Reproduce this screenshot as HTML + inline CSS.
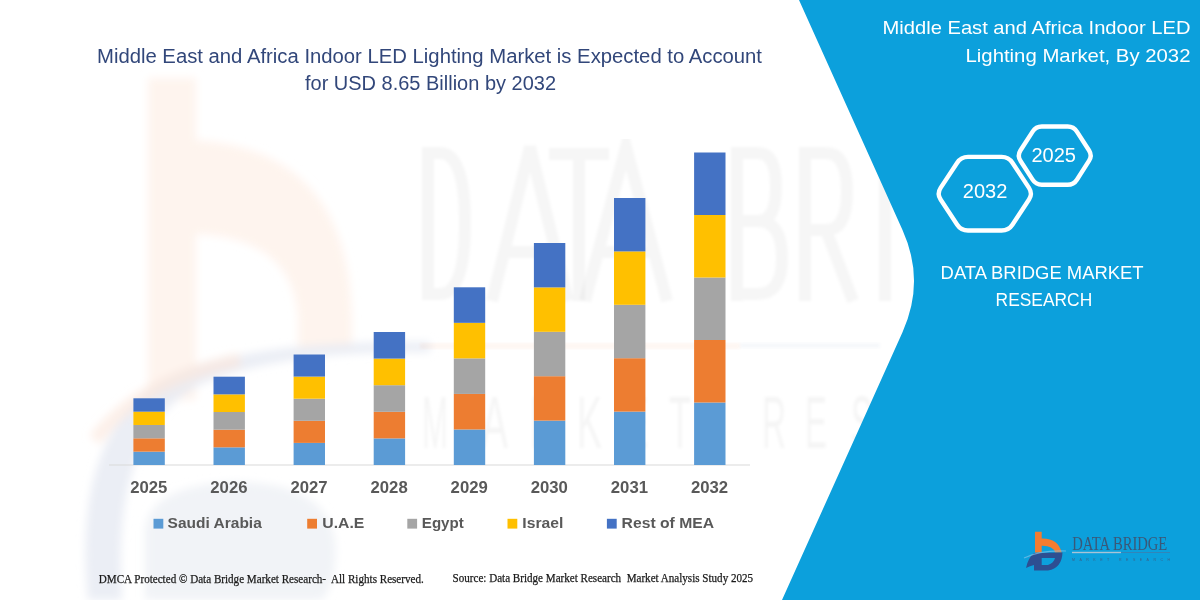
<!DOCTYPE html>
<html><head><meta charset="utf-8">
<style>
html,body{margin:0;padding:0;background:#fff;width:1200px;height:600px;overflow:hidden}
svg{display:block}
text{font-family:"Liberation Sans",sans-serif}
</style></head>
<body>
<svg width="1200" height="600" viewBox="0 0 1200 600">
<defs><filter id="bl" x="-5%" y="-5%" width="110%" height="110%"><feGaussianBlur stdDeviation="1.6"/></filter>
<filter id="bl3" x="-10%" y="-10%" width="120%" height="120%"><feGaussianBlur stdDeviation="4"/></filter></defs>
<rect x="0" y="0" width="1200" height="600" fill="#ffffff"/>

<!-- watermark logo (left) -->
<g filter="url(#bl3)">
<path d="M148,78 L196,78 L196,140 Q350,150 352,320 L352,350 L298,350 L298,320 Q294,238 196,234 L196,400 L148,400 Z" fill="#fef4ee"/>
<path d="M145,600 L145,530 Q150,485 235,482 Q325,482 335,540 Q338,580 322,600 Z" fill="#eef1f6" opacity="0.85"/>
<path d="M88,600 Q70,420 180,372 Q260,340 430,342 L430,352 Q280,350 200,385 Q110,430 122,600 Z" fill="#e6eaf3" opacity="0.8"/>
<path d="M95,440 Q140,380 240,360" fill="none" stroke="#fbe6da" stroke-opacity="0.6" stroke-width="14"/>
</g>

<!-- watermark text -->
<g fill="none" stroke="#000" stroke-opacity="0.036" stroke-width="12" filter="url(#bl)">
<path d="M428,147 L428,300 M428,153 L440,153 Q465,153 465,223 Q465,294 440,294 L428,294"/>
<path d="M492,301 L530,147 L568,301 M505,252 L555,252"/>
<path d="M549,154 L609,154 M579,154 L579,301"/>
<path d="M585,301 L626,147 L667,301 M598,252 L654,252"/>
<path d="M737,147 L737,301 M737,153 L758,153 Q776,153 776,187 Q776,221 758,221 L737,221 M758,221 Q782,221 782,258 Q782,294 758,294 L737,294"/>
<path d="M805,147 L805,301 M805,153 L826,153 Q847,153 847,192 Q847,230 826,230 L805,230 M826,230 L853,301"/>
<path d="M885,147 L885,301"/>
</g>
<g fill="#000" fill-opacity="0.04" font-size="74" filter="url(#bl)">
<text x="422" y="448" textLength="26" lengthAdjust="spacingAndGlyphs">M</text>
<text x="481" y="448" textLength="27" lengthAdjust="spacingAndGlyphs">A</text>
<text x="530" y="448" textLength="26" lengthAdjust="spacingAndGlyphs">R</text>
<text x="577" y="448" textLength="25" lengthAdjust="spacingAndGlyphs">K</text>
<text x="626" y="448" textLength="22" lengthAdjust="spacingAndGlyphs">E</text>
<text x="669" y="448" textLength="22" lengthAdjust="spacingAndGlyphs">T</text>
<text x="762" y="448" textLength="24" lengthAdjust="spacingAndGlyphs">R</text>
<text x="805" y="448" textLength="22" lengthAdjust="spacingAndGlyphs">E</text>
<text x="851" y="448" textLength="22" lengthAdjust="spacingAndGlyphs">S</text>
<text x="900" y="448" textLength="22" lengthAdjust="spacingAndGlyphs">E</text>
<text x="948" y="448" textLength="27" lengthAdjust="spacingAndGlyphs">A</text>
<text x="999" y="448" textLength="24" lengthAdjust="spacingAndGlyphs">R</text>
<text x="1049" y="448" textLength="24" lengthAdjust="spacingAndGlyphs">C</text>
<text x="1099" y="448" textLength="24" lengthAdjust="spacingAndGlyphs">H</text>
</g>
<rect x="420" y="343" width="320" height="6" fill="#f47c30" opacity="0.06" filter="url(#bl)"/>
<rect x="740" y="343" width="140" height="5" fill="#3060a0" opacity="0.04" filter="url(#bl)"/>

<!-- blue panel -->
<path d="M799,0 L902.5,230 Q925.5,281 902.6,332 L782,600 L1200,600 L1200,0 Z" fill="#0ca0dc"/>

<!-- chart axis -->
<rect x="109" y="464.5" width="641" height="1" fill="#d9d9d9"/>

<!-- bars -->
<g>
<rect x="133.4" y="451.66" width="31.4" height="13.34" fill="#5b9bd5"/>
<rect x="133.4" y="438.32" width="31.4" height="13.34" fill="#ed7d31"/>
<rect x="133.4" y="424.98" width="31.4" height="13.34" fill="#a5a5a5"/>
<rect x="133.4" y="411.64" width="31.4" height="13.34" fill="#ffc000"/>
<rect x="133.4" y="398.30" width="31.4" height="13.34" fill="#4472c4"/>
<rect x="213.5" y="447.34" width="31.4" height="17.66" fill="#5b9bd5"/>
<rect x="213.5" y="429.68" width="31.4" height="17.66" fill="#ed7d31"/>
<rect x="213.5" y="412.02" width="31.4" height="17.66" fill="#a5a5a5"/>
<rect x="213.5" y="394.36" width="31.4" height="17.66" fill="#ffc000"/>
<rect x="213.5" y="376.70" width="31.4" height="17.66" fill="#4472c4"/>
<rect x="293.6" y="442.90" width="31.4" height="22.10" fill="#5b9bd5"/>
<rect x="293.6" y="420.80" width="31.4" height="22.10" fill="#ed7d31"/>
<rect x="293.6" y="398.70" width="31.4" height="22.10" fill="#a5a5a5"/>
<rect x="293.6" y="376.60" width="31.4" height="22.10" fill="#ffc000"/>
<rect x="293.6" y="354.50" width="31.4" height="22.10" fill="#4472c4"/>
<rect x="373.7" y="438.40" width="31.4" height="26.60" fill="#5b9bd5"/>
<rect x="373.7" y="411.80" width="31.4" height="26.60" fill="#ed7d31"/>
<rect x="373.7" y="385.20" width="31.4" height="26.60" fill="#a5a5a5"/>
<rect x="373.7" y="358.60" width="31.4" height="26.60" fill="#ffc000"/>
<rect x="373.7" y="332.00" width="31.4" height="26.60" fill="#4472c4"/>
<rect x="453.8" y="429.46" width="31.4" height="35.54" fill="#5b9bd5"/>
<rect x="453.8" y="393.92" width="31.4" height="35.54" fill="#ed7d31"/>
<rect x="453.8" y="358.38" width="31.4" height="35.54" fill="#a5a5a5"/>
<rect x="453.8" y="322.84" width="31.4" height="35.54" fill="#ffc000"/>
<rect x="453.8" y="287.30" width="31.4" height="35.54" fill="#4472c4"/>
<rect x="533.9" y="420.60" width="31.4" height="44.40" fill="#5b9bd5"/>
<rect x="533.9" y="376.20" width="31.4" height="44.40" fill="#ed7d31"/>
<rect x="533.9" y="331.80" width="31.4" height="44.40" fill="#a5a5a5"/>
<rect x="533.9" y="287.40" width="31.4" height="44.40" fill="#ffc000"/>
<rect x="533.9" y="243.00" width="31.4" height="44.40" fill="#4472c4"/>
<rect x="614.0" y="411.60" width="31.4" height="53.40" fill="#5b9bd5"/>
<rect x="614.0" y="358.20" width="31.4" height="53.40" fill="#ed7d31"/>
<rect x="614.0" y="304.80" width="31.4" height="53.40" fill="#a5a5a5"/>
<rect x="614.0" y="251.40" width="31.4" height="53.40" fill="#ffc000"/>
<rect x="614.0" y="198.00" width="31.4" height="53.40" fill="#4472c4"/>
<rect x="694.1" y="402.50" width="31.4" height="62.50" fill="#5b9bd5"/>
<rect x="694.1" y="340.00" width="31.4" height="62.50" fill="#ed7d31"/>
<rect x="694.1" y="277.50" width="31.4" height="62.50" fill="#a5a5a5"/>
<rect x="694.1" y="215.00" width="31.4" height="62.50" fill="#ffc000"/>
<rect x="694.1" y="152.50" width="31.4" height="62.50" fill="#4472c4"/>
</g>

<!-- axis labels -->
<g fill="#595959" font-size="15.6" font-weight="bold">
<text x="148.8" y="492.9" text-anchor="middle" textLength="37.2" lengthAdjust="spacingAndGlyphs">2025</text>
<text x="228.9" y="492.9" text-anchor="middle" textLength="37.2" lengthAdjust="spacingAndGlyphs">2026</text>
<text x="309.0" y="492.9" text-anchor="middle" textLength="37.2" lengthAdjust="spacingAndGlyphs">2027</text>
<text x="389.1" y="492.9" text-anchor="middle" textLength="37.2" lengthAdjust="spacingAndGlyphs">2028</text>
<text x="469.2" y="492.9" text-anchor="middle" textLength="37.2" lengthAdjust="spacingAndGlyphs">2029</text>
<text x="549.3" y="492.9" text-anchor="middle" textLength="37.2" lengthAdjust="spacingAndGlyphs">2030</text>
<text x="629.4" y="492.9" text-anchor="middle" textLength="37.2" lengthAdjust="spacingAndGlyphs">2031</text>
<text x="709.5" y="492.9" text-anchor="middle" textLength="37.2" lengthAdjust="spacingAndGlyphs">2032</text>
</g>

<!-- legend -->
<g>
<rect x="153.5" y="518.8" width="9.8" height="9.8" fill="#5b9bd5"/>
<rect x="307.2" y="518.8" width="9.8" height="9.8" fill="#ed7d31"/>
<rect x="407.3" y="518.8" width="9.8" height="9.8" fill="#a5a5a5"/>
<rect x="507.5" y="518.8" width="9.8" height="9.8" fill="#ffc000"/>
<rect x="606.9" y="518.8" width="9.8" height="9.8" fill="#4472c4"/>
</g>
<g fill="#595959" font-size="15" font-weight="bold">
<text x="167.6" y="528" textLength="94.2" lengthAdjust="spacingAndGlyphs">Saudi Arabia</text>
<text x="322.3" y="528" textLength="42" lengthAdjust="spacingAndGlyphs">U.A.E</text>
<text x="421.8" y="528" textLength="42" lengthAdjust="spacingAndGlyphs">Egypt</text>
<text x="522.3" y="528" textLength="41" lengthAdjust="spacingAndGlyphs">Israel</text>
<text x="621.6" y="528" textLength="92.5" lengthAdjust="spacingAndGlyphs">Rest of MEA</text>
</g>

<!-- title -->
<g fill="#32477a" font-size="19.6">
<text x="97" y="62.6" textLength="665" lengthAdjust="spacingAndGlyphs">Middle East and Africa Indoor LED Lighting Market is Expected to Account</text>
<text x="305" y="89.6" textLength="251" lengthAdjust="spacingAndGlyphs">for USD 8.65 Billion by 2032</text>
</g>

<!-- footer -->
<g fill="#1a1a1a" stroke="#1a1a1a" stroke-width="0.25" font-size="12" style="font-family:'Liberation Serif',serif;white-space:pre">
<text style="font-family:'Liberation Serif',serif;white-space:pre" x="98.8" y="582.6" textLength="325" lengthAdjust="spacingAndGlyphs">DMCA Protected © Data Bridge Market Research-  All Rights Reserved.</text>
<text style="font-family:'Liberation Serif',serif;white-space:pre" x="452.6" y="582.4" textLength="300.5" lengthAdjust="spacingAndGlyphs">Source: Data Bridge Market Research  Market Analysis Study 2025</text>
</g>

<!-- right panel titles -->
<g fill="#ffffff" font-size="18.6">
<text x="1190.5" y="34.3" text-anchor="end" textLength="308" lengthAdjust="spacingAndGlyphs">Middle East and Africa Indoor LED</text>
<text x="1190.5" y="61.5" text-anchor="end" textLength="225" lengthAdjust="spacingAndGlyphs">Lighting Market, By 2032</text>
</g>

<!-- hexagons -->
<g fill="none" stroke="#ffffff" stroke-width="4.4" stroke-linejoin="round">
<path d="M940.6,199.5 Q936.8,193.7 940.6,187.9 L957.2,162.7 Q961.0,156.9 968.0,156.9 L1001.6,156.9 Q1008.6,156.9 1012.4,162.7 L1029.0,187.9 Q1032.8,193.7 1029.0,199.5 L1012.4,224.7 Q1008.6,230.5 1001.6,230.5 L968.0,230.5 Q961.0,230.5 957.2,224.7 Z"/>
<path d="M1020.4,160.7 Q1017.2,155.6 1020.4,150.5 L1032.6,131.6 Q1035.8,126.5 1041.8,126.5 L1067.7,126.5 Q1073.7,126.5 1076.9,131.6 L1089.1,150.5 Q1092.3,155.6 1089.1,160.7 L1076.9,179.7 Q1073.7,184.8 1067.7,184.8 L1041.8,184.8 Q1035.8,184.8 1032.6,179.7 Z"/>
</g>
<g fill="#ffffff" font-size="19.5">
<text x="962.8" y="198.2" textLength="44.6" lengthAdjust="spacingAndGlyphs">2032</text>
<text x="1031.4" y="161.9" textLength="44.6" lengthAdjust="spacingAndGlyphs">2025</text>
</g>
<g fill="#ffffff" font-size="19">
<text x="940.6" y="278.9" textLength="203" lengthAdjust="spacingAndGlyphs">DATA BRIDGE MARKET</text>
<text x="995.6" y="305.5" textLength="96.6" lengthAdjust="spacingAndGlyphs">RESEARCH</text>
</g>

<!-- logo -->
<g>
<path d="M1035,531.7 L1041.7,531.7 L1041.7,538.5 Q1058,538 1061.7,552.5 L1055,552.5 Q1053,545.5 1041.7,545.8 L1041.7,552.5 L1035,552.5 Z" fill="#f47c30"/>
<path d="M1034,553 L1062.5,552.5 Q1062,568 1048,570.5 L1034,570.5 L1034,565 Q1030,566 1026,568 Q1028,558 1034,553 Z M1041.7,558 L1041.7,565 L1048,565 Q1054,563 1055,558 Z" fill="#2d4f92" fill-rule="evenodd"/>
<path d="M1024,558 Q1040,550 1066,551" fill="none" stroke="#7cc0e8" stroke-width="1.1" opacity="0.7"/>
<text x="1072.3" y="549.7" font-size="18" fill="#3a5878" style="font-family:'Liberation Serif',serif" textLength="95" lengthAdjust="spacingAndGlyphs">DATA BRIDGE</text>
<rect x="1072" y="551.8" width="49" height="1.4" fill="#a9c3d6"/>
<rect x="1121" y="552" width="49" height="0.8" fill="#3d7fb0"/>
<text x="1072" y="561" font-size="3.5" fill="#3a6088" textLength="98" lengthAdjust="spacing">MARKET RESEARCH</text>
</g>

</svg>
</body></html>
